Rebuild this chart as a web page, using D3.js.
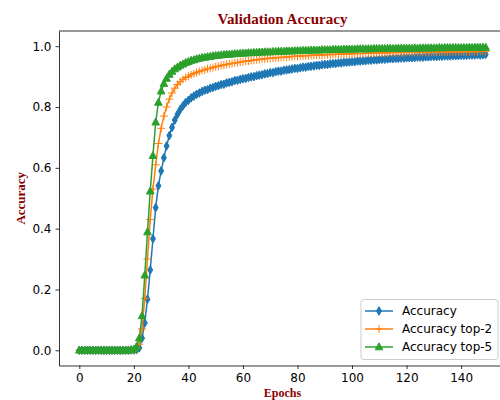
<!doctype html>
<html lang="en">
<head>
  <meta charset="utf-8">
  <title>Validation Accuracy</title>
  <style>
body {
  margin: 0;
  background: #fff;
}
.axis text {
  font: 12px "DejaVu Sans", sans-serif;
  fill: #000;
}
.axis path,
.axis line {
  fill: none;
  stroke: #000;
  stroke-width: 0.8;
}
.label {
  font-family: "Liberation Serif", "Times New Roman", serif;
  font-weight: bold;
  fill: #8b0000;
}
.legend text {
  font: 12px "DejaVu Sans", sans-serif;
  fill: #000;
}
  </style>
</head>
<body>
  <script src="https://d3js.org/d3.v7.min.js"></script>
  <script>
// validation accuracy per epoch
var accuracy = [
  0,0,0,0,0,0,0,0,0,0,
  0,0,0,0,0,0,0,0,0,0.001,
  0.001,0.002,0.008,0.04,0.09,0.168,0.264,0.367,0.469,0.541,
  0.590,0.633,0.672,0.706,0.733,0.757,0.776,0.792,0.804,0.815,
  0.822,0.830,0.836,0.842,0.846,0.851,0.855,0.857,0.862,0.864,
  0.868,0.870,0.874,0.875,0.879,0.881,0.883,0.887,0.888,0.891,
  0.893,0.894,0.897,0.899,0.900,0.903,0.905,0.906,0.909,0.910,
  0.913,0.913,0.916,0.918,0.918,0.921,0.922,0.923,0.925,0.927,
  0.927,0.929,0.931,0.931,0.933,0.934,0.935,0.937,0.937,0.939,
  0.940,0.940,0.942,0.943,0.943,0.945,0.945,0.947,0.947,0.948,
  0.949,0.949,0.951,0.951,0.952,0.952,0.954,0.954,0.955,0.955,
  0.956,0.957,0.957,0.958,0.959,0.959,0.960,0.960,0.961,0.961,
  0.962,0.962,0.962,0.963,0.964,0.964,0.964,0.965,0.965,0.966,
  0.966,0.966,0.967,0.967,0.968,0.968,0.968,0.969,0.969,0.969,
  0.970,0.970,0.970,0.971,0.971,0.971,0.972,0.971,0.972,0.973
];

var accuracyTop2 = [
  0,0,0,0,0,0,0,0,0,0,
  0,0,0,0,0,0,0,0,0,0.001,
  0.002,0.004,0.02,0.07,0.17,0.30,0.43,0.53,0.61,0.68,
  0.73,0.77,0.80,0.826,0.846,0.862,0.874,0.883,0.891,0.897,
  0.901,0.906,0.910,0.913,0.917,0.920,0.922,0.926,0.927,0.930,
  0.933,0.934,0.937,0.938,0.940,0.942,0.943,0.945,0.946,0.948,
  0.949,0.951,0.951,0.953,0.954,0.956,0.956,0.958,0.958,0.960,
  0.960,0.961,0.962,0.963,0.963,0.964,0.965,0.965,0.966,0.967,
  0.967,0.968,0.968,0.969,0.969,0.970,0.970,0.971,0.971,0.971,
  0.972,0.972,0.973,0.973,0.973,0.974,0.974,0.974,0.975,0.975,
  0.975,0.976,0.976,0.976,0.976,0.977,0.977,0.977,0.977,0.978,
  0.978,0.978,0.978,0.978,0.979,0.979,0.979,0.979,0.979,0.979,
  0.980,0.980,0.980,0.980,0.980,0.980,0.981,0.981,0.980,0.981,
  0.981,0.981,0.981,0.981,0.981,0.982,0.981,0.982,0.982,0.982,
  0.982,0.982,0.982,0.982,0.982,0.983,0.982,0.983,0.983,0.983
];

var accuracyTop5 = [
  0,0,0,0,0,0,0,0,0,0,
  0,0,0,0,0,0,0,0,0,0.001,
  0.003,0.012,0.04,0.113,0.247,0.389,0.523,0.64,0.75,0.815,
  0.852,0.877,0.894,0.907,0.917,0.925,0.931,0.937,0.941,0.946,
  0.949,0.953,0.955,0.958,0.960,0.962,0.963,0.965,0.966,0.968,
  0.969,0.970,0.971,0.972,0.973,0.973,0.974,0.975,0.975,0.976,
  0.977,0.977,0.978,0.978,0.979,0.979,0.980,0.980,0.981,0.981,
  0.981,0.982,0.982,0.983,0.983,0.983,0.984,0.984,0.984,0.985,
  0.985,0.985,0.986,0.986,0.986,0.987,0.987,0.987,0.987,0.988,
  0.988,0.988,0.988,0.989,0.989,0.989,0.989,0.990,0.990,0.990,
  0.990,0.990,0.991,0.991,0.991,0.991,0.991,0.991,0.992,0.992,
  0.992,0.992,0.992,0.992,0.993,0.992,0.993,0.993,0.993,0.993,
  0.993,0.993,0.993,0.994,0.993,0.994,0.994,0.994,0.994,0.994,
  0.994,0.994,0.995,0.994,0.995,0.995,0.995,0.995,0.995,0.995,
  0.995,0.995,0.995,0.996,0.995,0.996,0.996,0.996,0.996,0.996
];

var xTicks = [0, 20, 40, 60, 80, 100, 120, 140];
var yTicks = [0.0, 0.2, 0.4, 0.6, 0.8, 1.0];

var series = [
  {name: "Accuracy", values: accuracy, color: "#1f77b4", marker: "thin_diamond"},
  {name: "Accuracy top-2", values: accuracyTop2, color: "#ff7f0e", marker: "plus"},
  {name: "Accuracy top-5", values: accuracyTop5, color: "#2ca02c", marker: "triangle"}
];

var W = 500, H = 400;
// the axes box runs a little past the right edge of the picture
var box = {left: 59, right: 506, top: 31, bottom: 365.5};

var x = d3.scaleLinear()
    .domain([-7.45, 156.45])
    .range([box.left, box.right]);
var y = d3.scaleLinear()
    .domain([-0.05, 1.05])
    .range([box.bottom, box.top]);

var svg = d3.select("body").append("svg")
    .attr("width", W)
    .attr("height", H);

// marker shapes, all centred on 0,0
function markerPath(kind) {
  if (kind === "thin_diamond") return "M0,-4.3L2.5,0L0,4.3L-2.5,0Z";
  if (kind === "plus") return "M-4,0H4M0,-4V4";
  return "M0,-4.2L3.8,2.8L-3.8,2.8Z";
}

var line = d3.line()
    .x(function(d, i) { return x(i); })
    .y(function(d) { return y(d); });

var plot = svg.append("g");

series.forEach(function(s) {
  var g = plot.append("g");
  g.append("path")
      .attr("d", line(s.values))
      .attr("fill", "none")
      .attr("stroke", s.color)
      .attr("stroke-width", 1.5);
  g.selectAll(".m")
      .data(s.values)
      .enter().append("path")
      .attr("class", "m")
      .attr("transform", function(d, i) { return "translate(" + x(i) + "," + y(d) + ")"; })
      .attr("d", markerPath(s.marker))
      .attr("fill", s.marker === "plus" ? "none" : s.color)
      .attr("stroke", s.color)
      .attr("stroke-width", 1);
});

// axes
svg.append("g")
    .attr("class", "x axis")
    .attr("transform", "translate(0," + box.bottom + ")")
    .call(d3.axisBottom(x).tickValues(xTicks).tickSize(3.5).tickPadding(4).tickSizeOuter(0)
      .tickFormat(d3.format("d")));

svg.append("g")
    .attr("class", "y axis")
    .attr("transform", "translate(" + box.left + ",0)")
    .call(d3.axisLeft(y).tickValues(yTicks).tickSize(3.5).tickPadding(4).tickSizeOuter(0)
      .tickFormat(d3.format(".1f")));

// top and right spines
svg.append("line")
    .attr("x1", box.left).attr("x2", box.right)
    .attr("y1", box.top).attr("y2", box.top)
    .attr("stroke", "#000").attr("stroke-width", 0.8);
svg.append("line")
    .attr("x1", box.right).attr("x2", box.right)
    .attr("y1", box.top).attr("y2", box.bottom)
    .attr("stroke", "#000").attr("stroke-width", 0.8);

// titles
svg.append("text")
    .attr("class", "label")
    .attr("x", (box.left + box.right) / 2)
    .attr("y", 24)
    .attr("text-anchor", "middle")
    .style("font-size", "15px")
    .text("Validation Accuracy");

svg.append("text")
    .attr("class", "label")
    .attr("x", (box.left + box.right) / 2)
    .attr("y", 397)
    .attr("text-anchor", "middle")
    .style("font-size", "12px")
    .text("Epochs");

svg.append("text")
    .attr("class", "label")
    .attr("transform", "translate(24.5," + (box.top + box.bottom) / 2 + ") rotate(-90)")
    .attr("text-anchor", "middle")
    .style("font-size", "13px")
    .text("Accuracy");

// legend, lower right
var legend = svg.append("g")
    .attr("class", "legend")
    .attr("transform", "translate(361,299.5)");

legend.append("rect")
    .attr("width", 137)
    .attr("height", 60)
    .attr("rx", 3)
    .attr("fill", "#fff")
    .attr("fill-opacity", 0.8)
    .attr("stroke", "#ccc");

var item = legend.selectAll(".item")
    .data(series)
    .enter().append("g")
    .attr("class", "item")
    .attr("transform", function(d, i) { return "translate(0," + (11.5 + i * 18) + ")"; });

item.append("line")
    .attr("x1", 4).attr("x2", 32)
    .attr("stroke", function(d) { return d.color; })
    .attr("stroke-width", 1.5);
item.append("path")
    .attr("transform", "translate(18,0)")
    .attr("d", function(d) { return markerPath(d.marker); })
    .attr("fill", function(d) { return d.marker === "plus" ? "none" : d.color; })
    .attr("stroke", function(d) { return d.color; });
item.append("text")
    .attr("x", 41)
    .attr("y", 4.3)
    .text(function(d) { return d.name; });
  </script>
</body>
</html>
